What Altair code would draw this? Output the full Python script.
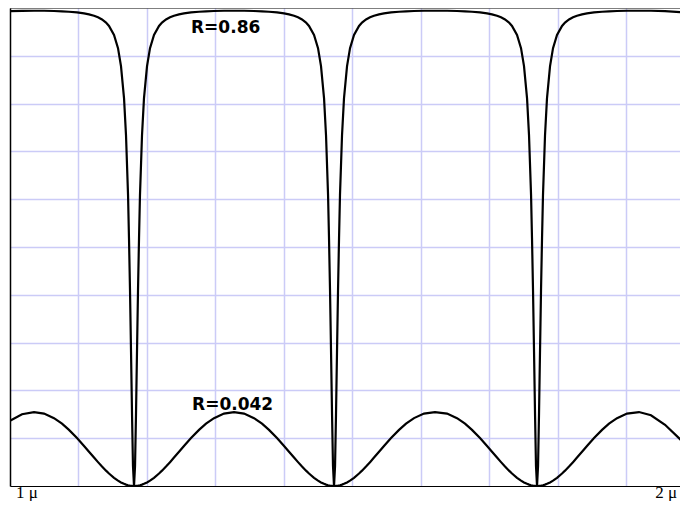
import altair as alt
import pandas as pd

# wavelength (micron) sample positions
wl = [
    1.0000, 1.0177, 1.0354,
    1.0502, 1.0649, 1.0767, 1.0870, 1.0988, 1.1092, 1.1165, 1.1239, 1.1298, 1.1357, 1.1416, 1.1460,
    1.1534, 1.1593, 1.1637, 1.1682, 1.1711, 1.1741, 1.1755, 1.1770, 1.1785, 1.1800, 1.1814, 1.1829,
    1.1844, 1.1858, 1.1873, 1.1888, 1.1903, 1.1917, 1.1947, 1.1976, 1.2021, 1.2065, 1.2124, 1.2198,
    1.2242, 1.2301, 1.2360, 1.2419, 1.2493, 1.2566, 1.2670, 1.2788, 1.2891, 1.3009, 1.3156, 1.3304,
    1.3452, 1.3599, 1.3717, 1.3820, 1.3938, 1.4042, 1.4115, 1.4189, 1.4248, 1.4307, 1.4366, 1.4410,
    1.4484, 1.4543, 1.4587, 1.4632, 1.4661, 1.4691, 1.4705, 1.4720, 1.4735, 1.4750, 1.4764, 1.4779,
    1.4794, 1.4808, 1.4823, 1.4838, 1.4853, 1.4867, 1.4897, 1.4926, 1.4971, 1.5015, 1.5074, 1.5148,
    1.5192, 1.5251, 1.5310, 1.5369, 1.5443, 1.5516, 1.5620, 1.5738, 1.5841, 1.5959, 1.6106, 1.6268,
    1.6446, 1.6593, 1.6711, 1.6814, 1.6932, 1.7036, 1.7109, 1.7183, 1.7242, 1.7301, 1.7360, 1.7404,
    1.7478, 1.7537, 1.7581, 1.7626, 1.7655, 1.7685, 1.7699, 1.7714, 1.7729, 1.7744, 1.7758, 1.7773,
    1.7788, 1.7802, 1.7817, 1.7832, 1.7847, 1.7861, 1.7891, 1.7920, 1.7965, 1.8009, 1.8068, 1.8142,
    1.8186, 1.8245, 1.8304, 1.8363, 1.8437, 1.8510, 1.8614, 1.8732, 1.8835, 1.8953, 1.9100, 1.9277,
    1.9454, 1.9661, 1.9882, 2.0000,
]

# reflectance of the film with R=0.86 surfaces
refl_hi = [
    0.9934, 0.9941, 0.9943,
    0.9942, 0.9937, 0.9931, 0.9922, 0.9907, 0.9887, 0.9867, 0.9838, 0.9805, 0.9760, 0.9695, 0.9625,
    0.9437, 0.9160, 0.8786, 0.8110, 0.7338, 0.6085, 0.5190, 0.4090, 0.2804, 0.1477, 0.0415, 0.0000,
    0.0415, 0.1477, 0.2804, 0.4090, 0.5190, 0.6085, 0.7338, 0.8110, 0.8786, 0.9160, 0.9437, 0.9625,
    0.9695, 0.9760, 0.9805, 0.9838, 0.9867, 0.9887, 0.9907, 0.9922, 0.9931, 0.9937, 0.9942, 0.9943,
    0.9942, 0.9937, 0.9931, 0.9922, 0.9907, 0.9887, 0.9867, 0.9838, 0.9805, 0.9760, 0.9695, 0.9625,
    0.9437, 0.9160, 0.8786, 0.8110, 0.7338, 0.6085, 0.5190, 0.4090, 0.2804, 0.1477, 0.0415, 0.0000,
    0.0415, 0.1477, 0.2804, 0.4090, 0.5190, 0.6085, 0.7338, 0.8110, 0.8786, 0.9160, 0.9437, 0.9625,
    0.9695, 0.9760, 0.9805, 0.9838, 0.9867, 0.9887, 0.9907, 0.9922, 0.9931, 0.9937, 0.9942, 0.9943,
    0.9942, 0.9937, 0.9931, 0.9922, 0.9907, 0.9887, 0.9867, 0.9838, 0.9805, 0.9760, 0.9695, 0.9625,
    0.9437, 0.9160, 0.8786, 0.8110, 0.7338, 0.6085, 0.5190, 0.4090, 0.2804, 0.1477, 0.0415, 0.0000,
    0.0415, 0.1477, 0.2804, 0.4090, 0.5190, 0.6085, 0.7338, 0.8110, 0.8786, 0.9160, 0.9437, 0.9625,
    0.9695, 0.9760, 0.9805, 0.9838, 0.9867, 0.9887, 0.9907, 0.9922, 0.9931, 0.9937, 0.9942, 0.9943,
    0.9942, 0.9933, 0.9914, 0.9890,
]

# reflectance of the film with R=0.042 surfaces
refl_lo = [
    0.1366, 0.1501, 0.1547,
    0.1515, 0.1420, 0.1303, 0.1174, 0.1003, 0.0838, 0.0717, 0.0595, 0.0499, 0.0407, 0.0321, 0.0261,
    0.0172, 0.0113, 0.0075, 0.0045, 0.0029, 0.0016, 0.0011, 0.0007, 0.0004, 0.0002, 0.0000, 0.0000,
    0.0000, 0.0002, 0.0004, 0.0007, 0.0011, 0.0016, 0.0029, 0.0045, 0.0075, 0.0113, 0.0172, 0.0261,
    0.0321, 0.0407, 0.0499, 0.0595, 0.0717, 0.0838, 0.1003, 0.1174, 0.1303, 0.1420, 0.1515, 0.1547,
    0.1515, 0.1420, 0.1303, 0.1174, 0.1003, 0.0838, 0.0717, 0.0595, 0.0499, 0.0407, 0.0321, 0.0261,
    0.0172, 0.0113, 0.0075, 0.0045, 0.0029, 0.0016, 0.0011, 0.0007, 0.0004, 0.0002, 0.0000, 0.0000,
    0.0000, 0.0002, 0.0004, 0.0007, 0.0011, 0.0016, 0.0029, 0.0045, 0.0075, 0.0113, 0.0172, 0.0261,
    0.0321, 0.0407, 0.0499, 0.0595, 0.0717, 0.0838, 0.1003, 0.1174, 0.1303, 0.1420, 0.1515, 0.1547,
    0.1515, 0.1420, 0.1303, 0.1174, 0.1003, 0.0838, 0.0717, 0.0595, 0.0499, 0.0407, 0.0321, 0.0261,
    0.0172, 0.0113, 0.0075, 0.0045, 0.0029, 0.0016, 0.0011, 0.0007, 0.0004, 0.0002, 0.0000, 0.0000,
    0.0000, 0.0002, 0.0004, 0.0007, 0.0011, 0.0016, 0.0029, 0.0045, 0.0075, 0.0113, 0.0172, 0.0261,
    0.0321, 0.0407, 0.0499, 0.0595, 0.0717, 0.0838, 0.1003, 0.1174, 0.1303, 0.1420, 0.1515, 0.1547,
    0.1480, 0.1280, 0.0980, 0.0800,
]

x_grid = [1.101, 1.202, 1.303, 1.404, 1.505, 1.606, 1.707, 1.808, 1.909]
y_grid = [0.1, 0.2, 0.3, 0.4, 0.5, 0.6, 0.7, 0.8, 0.9]
x_view = [1.0, 1.98818]

curve_labels = ["R=0.86", "R=0.042"]
curve_label_x = [1.2670, 1.2685]
curve_label_y = [0.9471, 0.1590]

axis_labels = ["1 μ", "2 μ"]

df = pd.concat([
    pd.DataFrame({"wl": wl, "R": refl_hi, "series": "R=0.86"}),
    pd.DataFrame({"wl": wl, "R": refl_lo, "series": "R=0.042"}),
])

xs = alt.Scale(domain=x_view, nice=False, zero=False)
ys = alt.Scale(domain=[0.0, 1.0], nice=False, zero=False)

GRID = "#cbcbf7"

lines = alt.Chart(df).mark_line(color="black", strokeWidth=2.2, clip=True).encode(
    x=alt.X("wl:Q", scale=xs, axis=alt.Axis(values=x_grid, grid=True, gridColor=GRID, gridWidth=1.5,
                                             labels=False, ticks=False, domain=True, domainColor="black",
                                             domainWidth=1, title=None)),
    y=alt.Y("R:Q", scale=ys, axis=alt.Axis(values=y_grid, grid=True, gridColor=GRID, gridWidth=1.5,
                                            labels=False, ticks=False, domain=True, domainColor="black",
                                            domainWidth=1.5, title=None)),
    detail="series:N",
)

top_border = alt.Chart(pd.DataFrame({"v": [1.0]})).mark_rule(color="black", strokeWidth=1.2).encode(
    y=alt.Y("v:Q", scale=ys)
)

clabels = alt.Chart(pd.DataFrame({"x": curve_label_x, "y": curve_label_y, "t": curve_labels})).mark_text(
    font="DejaVu Sans", fontWeight="bold", fontSize=17, align="left", baseline="alphabetic", color="black"
).encode(x=alt.X("x:Q", scale=xs), y=alt.Y("y:Q", scale=ys), text="t:N")

al_df = pd.DataFrame({"x": x_view, "y": [0.0, 0.0], "t": axis_labels})
lab1 = alt.Chart(al_df.iloc[[0]]).mark_text(
    font="Liberation Serif", fontSize=17, align="left", baseline="alphabetic", dx=6, dy=12, color="black"
).encode(x=alt.X("x:Q", scale=xs), y=alt.Y("y:Q", scale=ys), text="t:N")
lab2 = alt.Chart(al_df.iloc[[1]]).mark_text(
    font="Liberation Serif", fontSize=17, align="right", baseline="alphabetic", dx=-3, dy=12, color="black"
).encode(x=alt.X("x:Q", scale=xs), y=alt.Y("y:Q", scale=ys), text="t:N")

chart = alt.layer(lines, top_border, clabels, lab1, lab2).properties(
    width=670, height=478,
    autosize=alt.AutoSizeParams(type="none"),
    padding={"left": 2, "top": 0, "right": 0, "bottom": 15},
    background="white",
).configure_view(stroke=None)

chart.save("out.html", embed_options={"renderer": "svg", "actions": False})
